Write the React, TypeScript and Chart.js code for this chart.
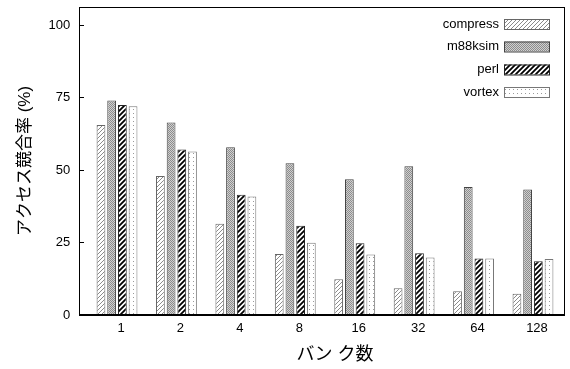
import React, { useEffect, useRef } from 'react';
import { Chart, registerables } from 'chart.js';
Chart.register(...registerables);

const categories = ['1', '2', '4', '8', '16', '32', '64', '128'];
const seriesNames = ['compress', 'm88ksim', 'perl', 'vortex'];
const compress = [65.5, 47.9, 31.5, 21.0, 12.3, 9.2, 8.2, 7.3];
const m88ksim = [74.0, 66.4, 57.8, 52.3, 46.8, 51.3, 44.1, 43.3];
const perl = [72.4, 57.1, 41.5, 30.8, 24.7, 21.3, 19.5, 18.5];
const vortex = [72.0, 56.4, 40.9, 24.9, 20.9, 19.8, 19.5, 19.3];
const yTicks = [0, 25, 50, 75, 100];
const xTitle = 'バン ク数';
const yTitle = 'アクセス競合率 (%)';

const FONT = "'Liberation Sans', Arial, 'Noto Sans CJK JP', sans-serif";

function makeTile(size: number, draw: (c: CanvasRenderingContext2D) => void): CanvasPattern {
  const cv = document.createElement('canvas');
  cv.width = size;
  cv.height = size;
  const c = cv.getContext('2d')!;
  draw(c);
  const ctx = document.createElement('canvas').getContext('2d')!;
  return ctx.createPattern(cv, 'repeat')!;
}

function makePatterns(): CanvasPattern[] {
  const hatch = (size: number, color: string, width: number, bg: string) =>
    makeTile(size, (c) => {
      c.fillStyle = bg;
      c.fillRect(0, 0, size, size);
      c.strokeStyle = color;
      c.lineWidth = width;
      c.beginPath();
      for (let k = -1; k <= 1; k++) {
        c.moveTo(-1 + k * size, size + 1);
        c.lineTo(size + 1 + k * size, -1);
      }
      c.stroke();
    });
  const pCompress = hatch(4, '#8a8a8a', 1, '#ffffff');
  const pPerl = hatch(5, '#000000', 1.8, '#ffffff');
  const pM88 = makeTile(2, (c) => {
    c.fillStyle = '#d0d0d0';
    c.fillRect(0, 0, 2, 2);
    c.fillStyle = '#8c8c8c';
    c.fillRect(0, 0, 1, 1);
    c.fillRect(1, 1, 1, 1);
  });
  const pVortex = makeTile(4, (c) => {
    c.fillStyle = '#ffffff';
    c.fillRect(0, 0, 4, 4);
    c.fillStyle = '#9a9a9a';
    c.fillRect(1, 1, 1, 1);
  });
  return [pCompress, pM88, pPerl, pVortex];
}

const borderColors = ['#666666', '#444444', '#222222', '#777777'];

export default function App() {
  const ref = useRef<HTMLCanvasElement>(null);
  useEffect(() => {
    document.body.style.margin = '0';
    const canvas = ref.current!;
    const patterns = makePatterns();
    const values = [compress, m88ksim, perl, vortex];

    const framePlugin = {
      id: 'frame',
      afterDraw(chart: any) {
        const ctx = chart.ctx as CanvasRenderingContext2D;
        const ca = chart.chartArea;
        const y = chart.scales.y;
        const L = 79, R = 565;
        ctx.save();
        ctx.strokeStyle = '#000';
        ctx.lineWidth = 1;
        ctx.strokeRect(L + 0.5, ca.top + 0.5, R - L - 1, ca.bottom - ca.top);
        ctx.lineWidth = 2;
        ctx.beginPath();
        ctx.moveTo(L, ca.bottom);
        ctx.lineTo(R, ca.bottom);
        ctx.stroke();
        ctx.lineWidth = 1;
        ctx.beginPath();
        for (const v of yTicks) {
          const py = Math.round(y.getPixelForValue(v)) + 0.5;
          ctx.moveTo(L, py);
          ctx.lineTo(L + 5, py);
        }
        ctx.stroke();
        // x axis title
        ctx.fillStyle = '#000';
        ctx.font = `18px ${FONT}`;
        ctx.textAlign = 'center';
        ctx.textBaseline = 'middle';
        ctx.fillText(xTitle, 335, 355);
        // legend
        ctx.font = `13px ${FONT}`;
        ctx.textAlign = 'right';
        ctx.textBaseline = 'middle';
        const rows = [24, 46.5, 69.5, 92];
        seriesNames.forEach((name, i) => {
          const cy = rows[i];
          ctx.fillStyle = '#000';
          ctx.fillText(name, 499, cy);
          ctx.fillStyle = patterns[i];
          ctx.fillRect(504, cy - 5, 46, 10);
          ctx.strokeStyle = borderColors[i];
          ctx.lineWidth = 1;
          ctx.strokeRect(504.5, cy - 5 + 0.5, 45, 10);
        });
        ctx.restore();
      },
    };

    const chart = new Chart(canvas, {
      type: 'bar',
      data: {
        labels: categories,
        datasets: seriesNames.map((name, i) => ({
          label: name,
          data: values[i],
          backgroundColor: patterns[i] as any,
          borderColor: borderColors[i],
          borderWidth: 1,
          barPercentage: 0.82,
          categoryPercentage: 0.72,
        })),
      },
      options: {
        animation: false,
        responsive: false,
        maintainAspectRatio: false,
        layout: { padding: { left: 0, right: 7.3, top: 7, bottom: 0 } },
        plugins: { legend: { display: false }, tooltip: { enabled: false } },
        scales: {
          x: {
            type: 'category',
            offset: true,
            grid: { display: false, drawTicks: false },
            border: { display: false },
            ticks: { color: '#000', font: { size: 13, family: FONT }, padding: 6, labelOffset: 4, maxRotation: 0, autoSkip: false },
            title: { display: false, text: xTitle },
            afterFit: (s: any) => { s.height = 54; s.paddingLeft = 0; s.paddingRight = 0; },
          },
          y: {
            min: 0,
            max: 106.2,
            grid: { display: false, drawTicks: false },
            border: { display: false },
            afterBuildTicks: (s: any) => { s.ticks = yTicks.map((v) => ({ value: v })); },
            ticks: { color: '#000', font: { size: 13, family: FONT }, padding: 17 },
            title: { display: true, text: yTitle, color: '#000', font: { size: 17, family: FONT }, padding: { top: 15, bottom: 0 } },
            afterFit: (s: any) => { s.width = 87.3; s.paddingTop = 0; s.paddingBottom = 0; },
          },
        },
      },
      plugins: [framePlugin],
    });
    return () => chart.destroy();
  }, []);
  return <canvas ref={ref} width={570} height={369} style={{ display: 'block' }} />;
}
